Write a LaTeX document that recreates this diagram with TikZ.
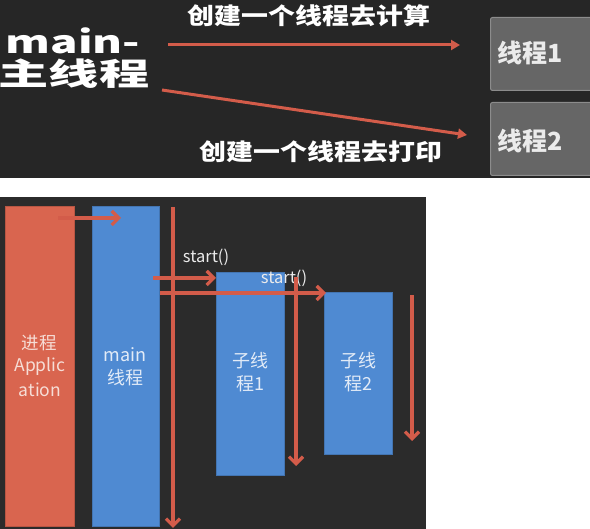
\documentclass[tikz,border=0pt]{standalone}
\usepackage{fontspec}
\setmainfont{Noto Sans CJK SC}
\newfontfamily\cjk{Noto Sans CJK SC}
\usetikzlibrary{arrows.meta}
\definecolor{bgtop}{HTML}{262626}
\definecolor{bgbot}{HTML}{2B2B2B}
\definecolor{greyfill}{HTML}{666666}
\definecolor{greyline}{HTML}{8C8C8C}
\definecolor{procred}{HTML}{D9654F}
\definecolor{thrblue}{HTML}{4F8AD2}
\definecolor{arrred}{HTML}{D35C4A}
\definecolor{redtxt}{HTML}{F6DDD6}
\definecolor{bluetxt}{HTML}{E2EBF7}
\tikzset{
  greybox/.style={draw=greyline, line width=1pt, fill=greyfill, rounded corners=2pt, anchor=north west, inner sep=0pt},
  procbox/.style={fill=procred, draw=procred!85!black, line width=0.6pt, anchor=north west, inner sep=0pt},
  thrbox/.style={fill=thrblue, draw=thrblue!85!black, line width=0.6pt, anchor=north west, inner sep=0pt},
  toparrow/.style={draw=arrred, line width=3pt, -{Triangle[length=9pt,width=10pt]}},
  lowarrow/.style={draw=arrred, line width=3.3pt, -{Straight Barb[length=7pt,width=14pt]}},
  bigtxt/.style={text=white, font=\cjk\bfseries\fontsize{31}{31}\selectfont, inner sep=0pt},
  midtxt/.style={text=white, font=\cjk\bfseries\fontsize{23}{23}\selectfont, inner sep=0pt},
  boxtxt/.style={text=white!92!black, font=\cjk\bfseries\fontsize{25}{25}\selectfont, inner sep=0pt},
  redlbl/.style={text=redtxt, font=\cjk\fontsize{17.5}{17.5}\selectfont, inner sep=0pt},
  bluelbl/.style={text=bluetxt, font=\cjk\fontsize{18}{18}\selectfont, inner sep=0pt},
  startlbl/.style={text=white!92!black, font=\cjk\fontsize{16.5}{16.5}\selectfont, inner sep=0pt},
}
\begin{document}
\begin{tikzpicture}[x=1pt,y=-1pt]
\useasboundingbox (0,0) rectangle (590,529);
\fill[bgtop] (0,0) rectangle (590,178);
\fill[bgbot] (0,197) rectangle (426,529);
% top panel
\node[greybox, minimum width=103pt, minimum height=73pt] (t1) at (490,17) {};
\node[greybox, minimum width=103pt, minimum height=73pt] (t2) at (490,102) {};
\node[boxtxt, anchor=west] (t1txt) at (497,53) {线程1};
\node[boxtxt, anchor=west] (t2txt) at (497,141) {线程2};
\node[bigtxt] (mainlbl) at (73,41) {\scalebox{1.47}[1]{main-}};
\node[bigtxt] (mainzh) at (74,74) {\scalebox{1.62}[1]{主线程}};
\node[midtxt] (calc) at (309,16) {\scalebox{1.17}[1]{创建一个线程去计算}};
\node[midtxt] (prnt) at (321,152) {\scalebox{1.17}[1]{创建一个线程去打印}};
\coordinate (ta1s) at (168,45);
\coordinate (ta1e) at (460,45);
\coordinate (ta2s) at (162,90);
\coordinate (ta2e) at (467,135);
\draw[toparrow] (ta1s) -- (ta1e);
\draw[toparrow] (ta2s) -- (ta2e);
% bottom panel
\node[procbox, minimum width=69pt, minimum height=320pt] (app) at (5,206) {};
\node[thrbox, minimum width=67pt, minimum height=320pt] (mainb) at (92,206) {};
\node[thrbox, minimum width=68pt, minimum height=203pt] (sub1) at (216,272) {};
\node[thrbox, minimum width=68pt, minimum height=162pt] (sub2) at (324,292) {};
\node[redlbl] (appl1) at (39,343) {进程};
\node[redlbl] (appl2) at (40,367) {Applic};
\node[redlbl] (appl3) at (40,390) {ation};
\node[bluelbl] (mainl1) at (125,355) {main};
\node[bluelbl] (mainl2) at (125,378) {线程};
\node[bluelbl] (sub1l1) at (250,361) {子线};
\node[bluelbl] (sub1l2) at (250,384) {程1};
\node[bluelbl] (sub2l1) at (358,361) {子线};
\node[bluelbl] (sub2l2) at (358,384) {程2};
\node[startlbl] (st1) at (206,257) {start()};
\node[startlbl] (st2) at (284,278) {start()};
\coordinate (a0s) at (58,218);
\coordinate (a0e) at (121,218);
\coordinate (mls) at (173,207);
\coordinate (mle) at (173,528);
\coordinate (s1s) at (153,278);
\coordinate (s1e) at (216,278);
\coordinate (s2s) at (160,293);
\coordinate (s2e) at (326,293);
\coordinate (l1s) at (296,277);
\coordinate (l1e) at (296,466);
\coordinate (l2s) at (412,295);
\coordinate (l2e) at (412,441);
\draw[lowarrow] (a0s) -- (a0e);
\draw[lowarrow] (mls) -- (mle);
\draw[lowarrow] (s1s) -- (s1e);
\draw[lowarrow] (s2s) -- (s2e);
\draw[lowarrow] (l1s) -- (l1e);
\draw[lowarrow] (l2s) -- (l2e);
\end{tikzpicture}
\end{document}
